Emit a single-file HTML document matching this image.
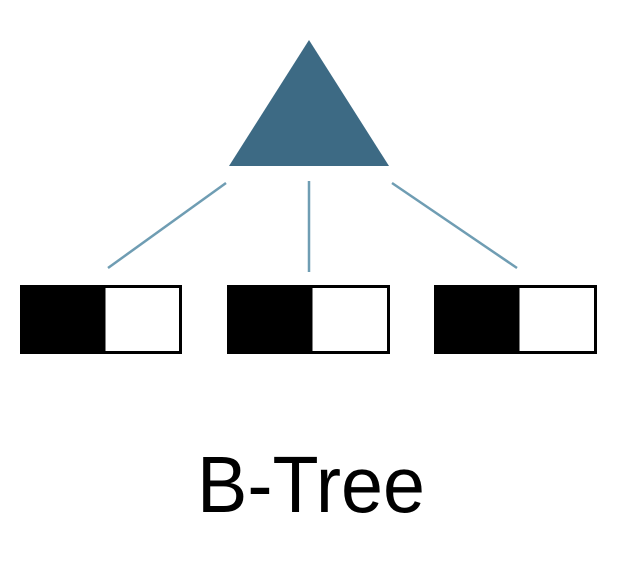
<!DOCTYPE html>
<html><head><meta charset="utf-8"><style>
html,body{margin:0;padding:0;background:#fff;width:626px;height:570px;overflow:hidden}
</style></head><body>
<svg width="626" height="570" xmlns="http://www.w3.org/2000/svg">
<polygon points="309,40 229,166 389,166" fill="#3d6a84"/>
<g stroke="#6f9db3" stroke-width="2.5">
<line x1="226" y1="183" x2="108" y2="268"/>
<line x1="309" y1="181" x2="309" y2="272"/>
<line x1="392" y1="183" x2="517" y2="268"/>
</g>
<g>
<rect x="20" y="285" width="86" height="69" fill="#000"/>
<rect x="104" y="286.5" width="76.5" height="66" fill="#fff" stroke="#000" stroke-width="3"/>
<rect x="227" y="285" width="86" height="69" fill="#000"/>
<rect x="311" y="286.5" width="77.5" height="66" fill="#fff" stroke="#000" stroke-width="3"/>
<rect x="434" y="285" width="86" height="69" fill="#000"/>
<rect x="518" y="286.5" width="77.5" height="66" fill="#fff" stroke="#000" stroke-width="3"/>
</g>
<text x="311" y="512" text-anchor="middle" font-family="Liberation Sans, sans-serif" font-size="80" textLength="228" lengthAdjust="spacingAndGlyphs" fill="#000">B-Tree</text>
</svg>
</body></html>
